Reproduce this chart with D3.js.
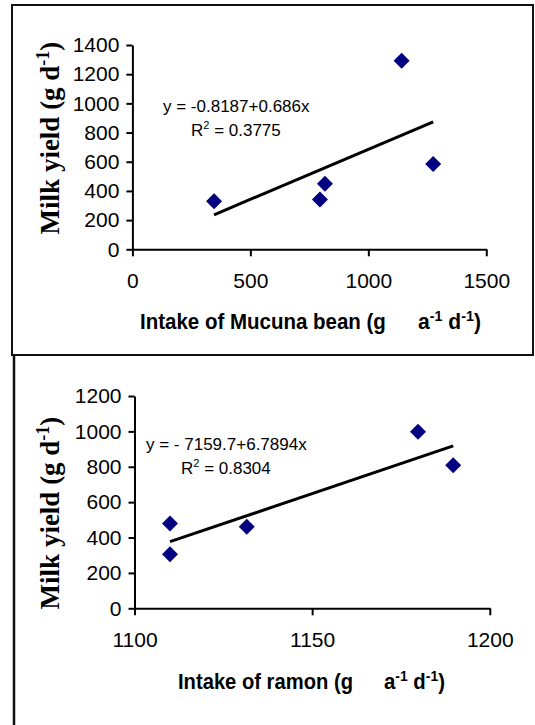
<!DOCTYPE html>
<html lang="en">

<head>
    <meta charset="UTF-8">
    <title>Milk yield vs intake</title>
    <script src="https://d3js.org/d3.v7.min.js"></script>
    <style>
        body {
            margin: 0;
            background: #fff;
        }

        .tick text {
            font-family: "Liberation Sans", Arial, sans-serif;
            font-size: 21px;
            fill: #000;
        }

        .axis path,
        .axis line {
            stroke: #000;
            stroke-width: 2px;
        }

        .ylab {
            font-family: "Liberation Serif", "Times New Roman", serif;
            font-weight: bold;
            font-size: 27px;
        }

        .xlab {
            font-family: "Liberation Sans", Arial, sans-serif;
            font-weight: bold;
            font-size: 22px;
        }

        .eq {
            font-family: "Liberation Sans", Arial, sans-serif;
            font-size: 17px;
        }
    </style>
</head>

<body>
    <svg width="535" height="725"></svg>

    <script>
        // Mucuna bean panel
        const mucunaIntake = [346, 795, 816, 1141, 1275];
        const mucunaMilk = [329, 342, 449, 1292, 584];
        const mucunaXTicks = [0, 500, 1000, 1500];
        const mucunaYTicks = [0, 200, 400, 600, 800, 1000, 1200, 1400];
        const mucunaFit = [-0.8187, 0.686]; // intercept, slope

        // Ramon panel
        const ramonIntake = [1110, 1110, 1131.6, 1179.8, 1189.7];
        const ramonMilk = [480, 305, 461, 998, 808];
        const ramonXTicks = [1100, 1150, 1200];
        const ramonYTicks = [0, 200, 400, 600, 800, 1000, 1200];
        const ramonFit = [-7159.7, 6.7894];

        const svg = d3.select("svg");

        // frames
        svg.append("rect")
            .attr("x", 12).attr("y", 5)
            .attr("width", 521).attr("height", 350)
            .attr("fill", "none")
            .attr("stroke", "#111")
            .attr("stroke-width", 2);
        svg.append("line")
            .attr("x1", 14).attr("x2", 14)
            .attr("y1", 355).attr("y2", 725)
            .attr("stroke", "#111")
            .attr("stroke-width", 2.5);

        const diamond = "M0,-8L8,0L0,8L-8,0Z";

        // squeeze a text group into [x0, x1] horizontally
        function fitText(gr, x0, x1, y) {
            const w = gr.node().getBBox().width;
            gr.attr("transform", `translate(${x0},${y}) scale(${(x1 - x0) / w},1)`);
        }

        function drawPanel(p) {
            const x = d3.scaleLinear().domain(p.xDomain).range(p.xRange);
            const y = d3.scaleLinear().domain(p.yDomain).range(p.yRange);
            const g = svg.append("g");

            g.append("g")
                .attr("class", "axis")
                .attr("transform", `translate(0,${p.yRange[0]})`)
                .call(d3.axisBottom(x).tickValues(p.xTicks).tickFormat(d3.format("d"))
                    .tickSize(7).tickSizeOuter(0).tickPadding(17));

            g.append("g")
                .attr("class", "axis")
                .attr("transform", `translate(${p.xRange[0]},0)`)
                .call(d3.axisLeft(y).tickValues(p.yTicks).tickFormat(d3.format("d"))
                    .tickSize(6).tickSizeOuter(0).tickPadding(7));

            // trend line over the data range
            const xs = d3.extent(p.xs);
            g.append("line")
                .attr("x1", x(xs[0])).attr("y1", y(p.fit[0] + p.fit[1] * xs[0]))
                .attr("x2", x(xs[1])).attr("y2", y(p.fit[0] + p.fit[1] * xs[1]))
                .attr("stroke", "#000")
                .attr("stroke-width", 3);

            g.selectAll(".pt")
                .data(p.xs.map((v, i) => [v, p.ys[i]]))
                .enter().append("path")
                .attr("class", "pt")
                .attr("d", diamond)
                .attr("fill", "#000080")
                .attr("transform", d => `translate(${x(d[0])},${y(d[1])})`);

            // equation
            g.append("text")
                .attr("class", "eq")
                .attr("x", p.eqX).attr("y", p.eqY)
                .text(p.eqText);
            const r2 = g.append("text")
                .attr("class", "eq")
                .attr("x", p.r2X).attr("y", p.eqY + 24);
            r2.append("tspan").text("R");
            r2.append("tspan").attr("font-size", 11).attr("dy", -7).text("2");
            r2.append("tspan").attr("dy", 7).text(" = " + p.r2);

            // y label
            const yl = g.append("text")
                .attr("class", "ylab")
                .attr("text-anchor", "middle")
                .attr("transform", `translate(59,${p.yLabY}) rotate(-90)`);
            yl.append("tspan").text("Milk yield (g d");
            yl.append("tspan").attr("font-size", 18).attr("dy", -10).text("-1");
            yl.append("tspan").attr("dy", 10).text(")");

            // x label, two pieces with a gap as in the original
            const xl1 = g.append("g");
            xl1.append("text").attr("class", "xlab").text(p.xLabel + " (g");
            fitText(xl1, p.xLab[0], p.xLab[1], p.xLabY);

            const xl2 = g.append("g");
            const t2 = xl2.append("text").attr("class", "xlab");
            t2.append("tspan").text("a");
            t2.append("tspan").attr("font-size", 15).attr("dy", -8).text("-1");
            t2.append("tspan").attr("dy", 8).text(" d");
            t2.append("tspan").attr("font-size", 15).attr("dy", -8).text("-1");
            t2.append("tspan").attr("dy", 8).text(")");
            fitText(xl2, p.xLab[2], p.xLab[3], p.xLabY);
        }

        drawPanel({
            xs: mucunaIntake, ys: mucunaMilk, fit: mucunaFit,
            xDomain: [0, 1500], xRange: [132.4, 486.3],
            yDomain: [0, 1400], yRange: [249.3, 45],
            xTicks: mucunaXTicks, yTicks: mucunaYTicks,
            eqText: "y = -0.8187+0.686x", eqX: 163, eqY: 112,
            r2: "0.3775", r2X: 191,
            yLabY: 138,
            xLabel: "Intake of Mucuna bean", xLab: [140, 386, 418, 481], xLabY: 329
        });

        drawPanel({
            xs: ramonIntake, ys: ramonMilk, fit: ramonFit,
            xDomain: [1100, 1200], xRange: [134.5, 489.8],
            yDomain: [0, 1200], yRange: [608.3, 396],
            xTicks: ramonXTicks, yTicks: ramonYTicks,
            eqText: "y = - 7159.7+6.7894x", eqX: 146, eqY: 450,
            r2: "0.8304", r2X: 181,
            yLabY: 513,
            xLabel: "Intake of ramon", xLab: [178, 353, 384, 445], xLabY: 689
        });
    </script>
</body>

</html>
